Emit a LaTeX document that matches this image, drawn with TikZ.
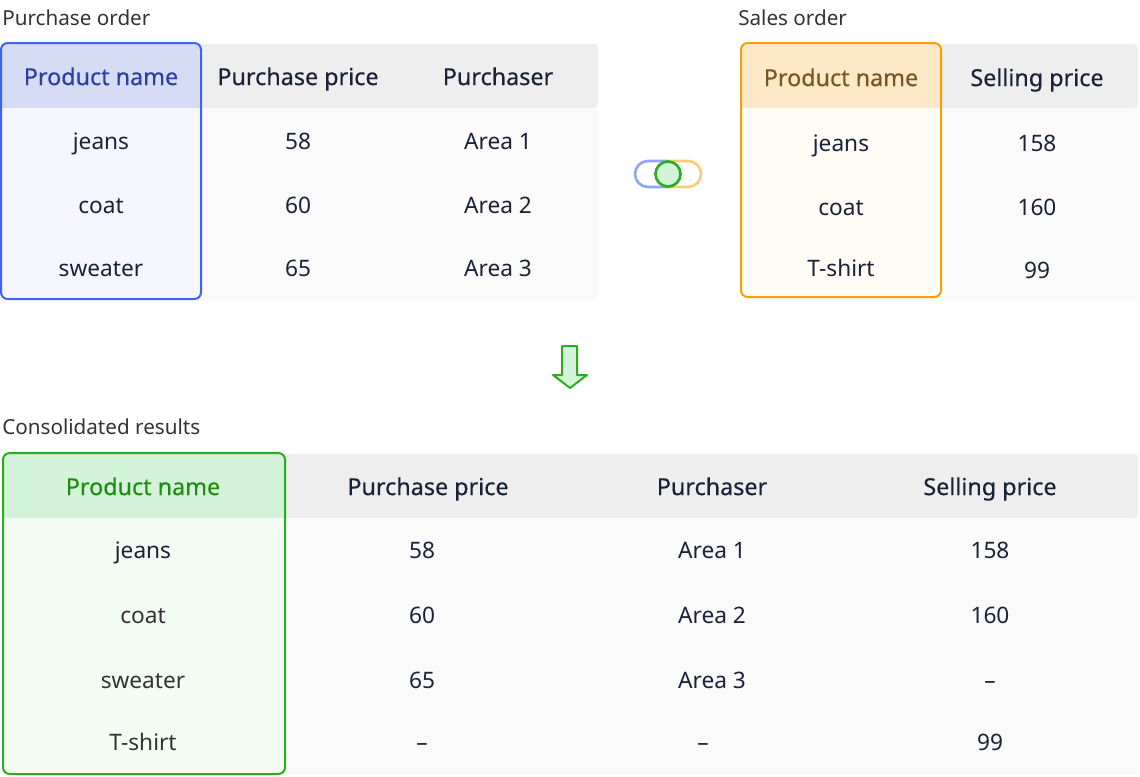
\documentclass[tikz,border=0pt]{standalone}
\usepackage{fontspec}
\setmainfont{Noto Sans}
\newfontfamily\headfont[FakeBold=0.4]{Noto Sans}

\definecolor{ink}{HTML}{1B2238}
\definecolor{titlegray}{HTML}{333333}
\definecolor{headgray}{HTML}{EEEEEE}
\definecolor{bodygray}{HTML}{FAFAFA}
\definecolor{blueline}{HTML}{3D63F0}
\definecolor{bluehead}{HTML}{D6DCF3}
\definecolor{bluebody}{HTML}{F6F7FE}
\definecolor{bluetext}{HTML}{2A3EA6}
\definecolor{orangeline}{HTML}{F5A00F}
\definecolor{orangehead}{HTML}{FDE8C8}
\definecolor{orangebody}{HTML}{FFFBF5}
\definecolor{orangetext}{HTML}{7A5522}
\definecolor{greenline}{HTML}{2AAE1F}
\definecolor{greenhead}{HTML}{D3F4D8}
\definecolor{greenbody}{HTML}{F3FDF4}
\definecolor{greentext}{HTML}{1E8C12}
\definecolor{pillblue}{HTML}{92A6F5}
\definecolor{pillorange}{HTML}{FBCB7A}

\tikzset{
  title/.style={anchor=west, inner sep=0pt, text height=2.5ex, text depth=.25ex, text=titlegray, font=\fontsize{15.5}{18}\selectfont},
  head/.style={inner sep=0pt, text height=2.5ex, text depth=.25ex, text=ink, font=\headfont\fontsize{17.5}{21}\selectfont},
  cell/.style={inner sep=0pt, text height=2.6ex, text depth=.25ex, text=ink, font=\fontsize{17}{20}\selectfont},
  keybox/.style={line width=1.5pt, rounded corners=5pt},
}

\begin{document}
\begin{tikzpicture}[x=0.75pt, y=-0.75pt]
\useasboundingbox (0,0) rectangle (1140,776);

\def\xa{101}
\def\xb{298}
\def\xc{498}
\def\xd{841}
\def\xe{1037}

%purchase order
\node[title] (potitle) at (2,17) {Purchase order};
\fill[headgray, rounded corners=3pt] (190,44) rectangle (598,108);
\fill[bodygray] (190,108) rectangle (598,300);
\begin{scope}
  \clip[rounded corners=5pt] (1,43) rectangle (201,299);
  \fill[bluebody] (1,43) rectangle (201,299);
  \fill[bluehead] (1,43) rectangle (201,108);
\end{scope}
\draw[keybox, blueline] (1,43) rectangle (201,299);

\node[head, text=bluetext] (pohead1) at (\xa,77) {Product name};
\node[head] (pohead2) at (\xb,77) {Purchase price};
\node[head] (pohead3) at (\xc,77) {Purchaser};

\node[cell] (po11) at (\xa,141) {jeans};
\node[cell] (po12) at (\xb,141) {58};
\node[cell] (po13) at (\xc,141) {Area 1};
\node[cell] (po21) at (\xa,205) {coat};
\node[cell] (po22) at (\xb,205) {60};
\node[cell] (po23) at (\xc,205) {Area 2};
\node[cell] (po31) at (\xa,268) {sweater};
\node[cell] (po32) at (\xb,268) {65};
\node[cell] (po33) at (\xc,268) {Area 3};

%sales order
\node[title] (sotitle) at (738,17) {Sales order};
\fill[headgray, rounded corners=3pt] (930,44) rectangle (1138,108);
\fill[bodygray] (930,108) rectangle (1138,300);
\begin{scope}
  \clip[rounded corners=5pt] (741,43) rectangle (941,297);
  \fill[orangebody] (741,43) rectangle (941,297);
  \fill[orangehead] (741,43) rectangle (941,108);
\end{scope}
\draw[keybox, orangeline] (741,43) rectangle (941,297);

\node[head, text=orangetext] (sohead1) at (\xd,78) {Product name};
\node[head] (sohead2) at (\xe,78) {Selling price};

\node[cell] (so11) at (\xd,143) {jeans};
\node[cell] (so12) at (\xe,143) {158};
\node[cell] (so21) at (\xd,207) {coat};
\node[cell] (so22) at (\xe,207) {160};
\node[cell] (so31) at (\xd,268) {T-shirt};
\node[cell] (so32) at (\xe,270) {99};

%toggle
\begin{scope}
  \clip (620,150) rectangle (668,200);
  \draw[pillblue, line width=2pt, rounded corners=9.75pt] (635,161) rectangle (701,187);
\end{scope}
\begin{scope}
  \clip (668,150) rectangle (716,200);
  \draw[pillorange, line width=2pt, rounded corners=9.75pt] (635,161) rectangle (701,187);
\end{scope}
\draw[greenline, fill=greenhead, line width=2pt] (668,174) circle (9.4pt);

%arrow
\draw[greenline, fill=greenhead, line width=1.5pt, line join=round]
  (562,346) -- (577,346) -- (577,375) -- (587,375) -- (570,388)
  -- (553,375) -- (562,375) -- cycle;

%consolidated results
\def\ya{487}
\def\yb{550}
\def\yc{615}
\def\yd{680}
\def\ye{742}
\node[title] (crtitle) at (2,426) {Consolidated results};
\fill[headgray, rounded corners=3pt] (270,454) rectangle (1138,518);
\fill[bodygray] (270,518) rectangle (1138,775);
\begin{scope}
  \clip[rounded corners=5pt] (3,453) rectangle (285,774);
  \fill[greenbody] (3,453) rectangle (285,774);
  \fill[greenhead] (3,453) rectangle (285,518);
\end{scope}
\draw[keybox, greenline] (3,453) rectangle (285,774);

\node[head, text=greentext] (crhead1) at (143,\ya) {Product name};
\node[head] (crhead2) at (428,\ya) {Purchase price};
\node[head] (crhead3) at (712,\ya) {Purchaser};
\node[head] (crhead4) at (990,\ya) {Selling price};

%first row
\node[cell] (cr11) at (143,\yb) {jeans};
\node[cell] (cr12) at (422,\yb) {58};
\node[cell] (cr13) at (712,\yb) {Area 1};
\node[cell] (cr14) at (990,\yb) {158};
%second row
\node[cell, text=titlegray] (cr21) at (143,\yc) {coat};
\node[cell] (cr22) at (422,\yc) {60};
\node[cell] (cr23) at (712,\yc) {Area 2};
\node[cell] (cr24) at (990,\yc) {160};
%third row
\node[cell, text=titlegray] (cr31) at (143,\yd) {sweater};
\node[cell] (cr32) at (422,\yd) {65};
\node[cell] (cr33) at (712,\yd) {Area 3};
\node[cell] (cr34) at (990,\yd) {--};
%fourth row
\node[cell, text=titlegray] (cr41) at (143,\ye) {T-shirt};
\node[cell] (cr42) at (422,\ye) {--};
\node[cell] (cr43) at (703,\ye) {--};
\node[cell] (cr44) at (990,\ye) {99};

\end{tikzpicture}
\end{document}
